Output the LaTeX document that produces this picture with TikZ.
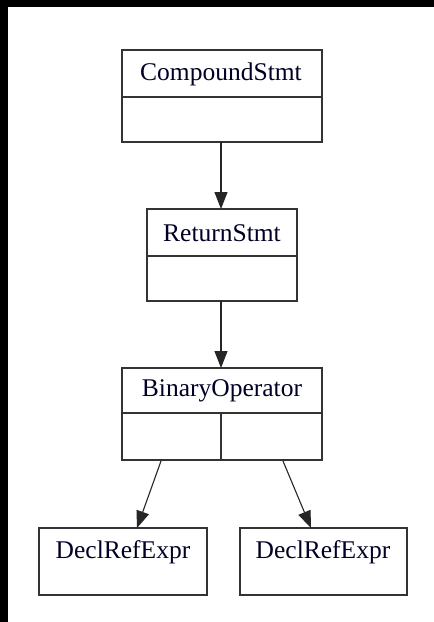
\documentclass[tikz,border=0pt]{standalone}
\usepackage{fontspec}
\setmainfont{Liberation Serif}
\usetikzlibrary{arrows.meta}
\begin{document}
\begin{tikzpicture}[x=1pt,y=-1pt,
  rec/.style={draw=black!80, line width=1.2pt},
  lbl/.style={font=\fontsize{25.5}{28}\selectfont, text=black!85!blue, inner sep=0pt},
  edge/.style={draw=black!85, line width=1.1pt, -{Triangle[length=17pt,width=13pt]}}]
  % canvas
  \useasboundingbox (0,0) rectangle (434,622);
  \fill[white] (0,0) rectangle (434,622);
  \fill[black] (0,0) rectangle (8,622);
  \fill[black] (0,0) rectangle (434,7);

  % CompoundStmt record
  \draw[rec] (122,50) rectangle (322,142);
  \draw[rec] (122,97) -- (322,97);
  \node[lbl] (cs) at (221,74) {CompoundStmt};
  \coordinate (csb) at (221,142);

  % ReturnStmt record
  \draw[rec] (147,209) rectangle (297,301);
  \draw[rec] (147,256) -- (297,256);
  \node[lbl] (rs) at (222,233) {ReturnStmt};
  \coordinate (rst) at (221,209);
  \coordinate (rsb) at (221,301);

  % BinaryOperator record with two operand ports
  \draw[rec] (122,368) rectangle (322,460);
  \draw[rec] (122,413) -- (322,413);
  \draw[rec] (221,413) -- (221,460);
  \node[lbl] (bo) at (222,391) {BinaryOperator};
  \coordinate (bot) at (221,368);
  \coordinate (bol) at (161,461);
  \coordinate (bor) at (283,461);

  % operand records
  \draw[rec] (39,528) rectangle (207,595);
  \node[lbl] (dl) at (123,552) {DeclRefExpr};
  \coordinate (dlt) at (137,528);
  \draw[rec] (240,528) rectangle (407,595);
  \node[lbl] (dr) at (323,552) {DeclRefExpr};
  \coordinate (drt) at (311,528);

  % edges
  \draw[edge] (csb) -- (rst);
  \draw[edge] (rsb) -- (bot);
  \draw[edge] (bol) -- (dlt);
  \draw[edge] (bor) -- (drt);
\end{tikzpicture}
\end{document}
